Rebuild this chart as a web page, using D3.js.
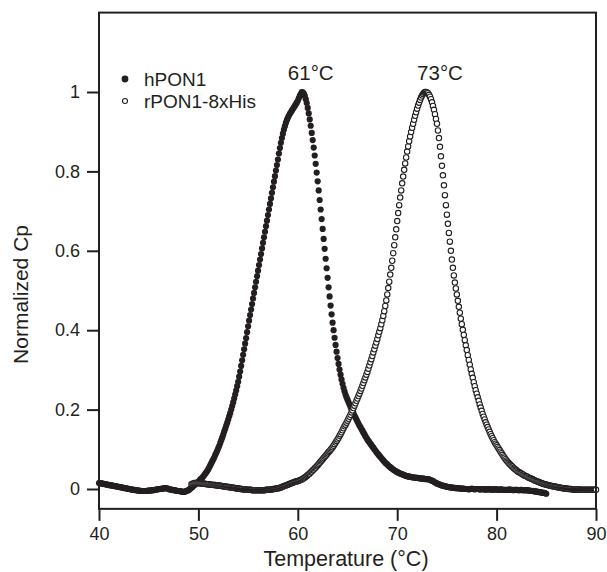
<!DOCTYPE html>
<html>
<head>
<meta charset="utf-8">
<script src="https://cdn.jsdelivr.net/npm/d3@7"></script>
<style>
  html, body { margin: 0; padding: 0; background: #ffffff; }
  svg { display: block; }
  text { font-family: "Liberation Sans", Arial, Helvetica, sans-serif; fill: #231f20; }
</style>
</head>
<body>
<svg id="chart" width="607" height="572"></svg>
<script>
// ---- data (temperature grid: start + index * step, in °C) ----
const tempStep = 0.1;
const hPON1Start = 40.0;
const rPON1Start = 49.3;

const hPON1 = [
  0.015,0.015,0.014,0.014,0.013,0.013,0.012,0.012,0.011,0.011,
  0.010,0.010,0.009,0.009,0.008,0.008,0.007,0.007,0.006,0.006,
  0.005,0.005,0.004,0.004,0.003,0.003,0.002,0.002,0.001,0.001,
  0.000,0.000,-0.001,-0.001,-0.002,-0.002,-0.002,-0.003,-0.003,-0.004,
  -0.004,-0.004,-0.005,-0.005,-0.005,-0.005,-0.005,-0.005,-0.005,-0.004,
  -0.004,-0.004,-0.004,-0.003,-0.003,-0.003,-0.002,-0.002,-0.001,-0.001,
  0.000,0.000,0.000,0.001,0.001,0.001,0.002,0.002,0.002,0.001,
  0.000,-0.001,-0.001,-0.002,-0.002,-0.003,-0.003,-0.004,-0.004,-0.005,
  -0.005,-0.005,-0.006,-0.006,-0.007,-0.007,-0.007,-0.006,-0.005,-0.004,
  -0.003,-0.001,0.001,0.003,0.005,0.008,0.010,0.012,0.014,0.016,
  0.018,0.021,0.024,0.026,0.029,0.032,0.035,0.039,0.042,0.046,
  0.050,0.055,0.060,0.065,0.070,0.075,0.080,0.086,0.091,0.097,
  0.103,0.109,0.116,0.123,0.130,0.137,0.145,0.152,0.160,0.167,
  0.175,0.183,0.191,0.200,0.209,0.218,0.228,0.238,0.248,0.259,
  0.270,0.283,0.296,0.310,0.324,0.338,0.352,0.366,0.380,0.395,
  0.410,0.424,0.438,0.452,0.466,0.480,0.494,0.508,0.522,0.536,
  0.550,0.564,0.578,0.592,0.606,0.620,0.634,0.648,0.662,0.676,
  0.690,0.704,0.718,0.732,0.746,0.760,0.774,0.788,0.802,0.816,
  0.830,0.845,0.859,0.872,0.884,0.895,0.905,0.914,0.922,0.929,
  0.935,0.940,0.945,0.949,0.953,0.957,0.961,0.965,0.969,0.973,
  0.978,0.984,0.990,0.995,1.000,0.999,0.996,0.990,0.982,0.972,
  0.960,0.946,0.931,0.915,0.897,0.879,0.860,0.840,0.819,0.797,
  0.775,0.752,0.728,0.704,0.680,0.655,0.630,0.605,0.580,0.556,
  0.532,0.508,0.485,0.462,0.440,0.419,0.400,0.381,0.363,0.346,
  0.330,0.315,0.301,0.288,0.276,0.265,0.255,0.246,0.238,0.231,
  0.225,0.219,0.213,0.207,0.201,0.196,0.191,0.185,0.180,0.175,
  0.170,0.165,0.160,0.156,0.151,0.147,0.142,0.138,0.133,0.129,
  0.125,0.121,0.118,0.114,0.111,0.107,0.104,0.100,0.097,0.093,
  0.090,0.087,0.084,0.081,0.078,0.075,0.072,0.069,0.066,0.064,
  0.062,0.059,0.057,0.055,0.053,0.051,0.049,0.047,0.046,0.044,
  0.043,0.041,0.040,0.039,0.038,0.037,0.036,0.035,0.034,0.033,
  0.032,0.032,0.031,0.031,0.030,0.030,0.029,0.029,0.029,0.028,
  0.028,0.028,0.027,0.027,0.027,0.026,0.026,0.026,0.025,0.025,
  0.025,0.025,0.024,0.023,0.022,0.021,0.020,0.018,0.017,0.015,
  0.014,0.013,0.012,0.011,0.010,0.009,0.008,0.008,0.007,0.006,
  0.006,0.005,0.005,0.004,0.004,0.004,0.003,0.003,0.003,0.002,
  0.002,0.002,0.002,0.001,0.001,0.001,0.001,0.001,0.000,0.000,
  0.000,0.000,-0.001,0.000,0.000,0.001,0.000,0.000,-0.001,0.000,
  0.000,0.000,0.000,-0.001,-0.001,0.000,0.000,-0.001,-0.001,-0.001,
  -0.001,-0.001,0.000,-0.001,-0.001,-0.001,-0.002,-0.001,-0.001,-0.001,
  -0.001,-0.001,-0.002,-0.002,-0.001,-0.001,-0.002,-0.002,-0.002,-0.002,
  -0.002,-0.002,-0.002,-0.001,-0.002,-0.002,-0.002,-0.003,-0.002,-0.002,
  -0.002,-0.002,-0.003,-0.003,-0.002,-0.002,-0.003,-0.003,-0.003,-0.003,
  -0.003,-0.003,-0.004,-0.004,-0.004,-0.005,-0.005,-0.005,-0.006,-0.006,
  -0.006,-0.007,-0.007,-0.008,-0.008,-0.009,-0.009,-0.010,-0.010,-0.011,
  -0.012
];

const rPON1 = [
  0.012,0.013,0.014,0.015,0.015,0.015,0.015,
  0.015,0.015,0.014,0.014,0.014,0.013,0.013,0.013,0.012,0.012,
  0.012,0.012,0.011,0.011,0.011,0.010,0.010,0.010,0.009,0.009,
  0.009,0.008,0.008,0.008,0.007,0.007,0.006,0.006,0.006,0.005,
  0.005,0.005,0.004,0.004,0.003,0.003,0.003,0.002,0.002,0.001,
  0.001,0.001,0.000,0.000,0.000,-0.001,-0.001,-0.001,-0.001,-0.002,
  -0.002,-0.002,-0.002,-0.002,-0.003,-0.003,-0.003,-0.003,-0.003,-0.003,
  -0.003,-0.003,-0.003,-0.003,-0.003,-0.003,-0.003,-0.003,-0.002,-0.002,
  -0.002,-0.002,-0.001,-0.001,-0.001,0.000,0.000,0.000,0.001,0.001,
  0.002,0.002,0.003,0.004,0.005,0.006,0.007,0.008,0.009,0.010,
  0.011,0.012,0.013,0.014,0.015,0.016,0.017,0.018,0.019,0.019,
  0.020,0.021,0.022,0.023,0.024,0.026,0.027,0.029,0.031,0.033,
  0.035,0.037,0.039,0.042,0.044,0.047,0.049,0.052,0.054,0.057,
  0.060,0.063,0.066,0.069,0.072,0.075,0.078,0.081,0.084,0.087,
  0.090,0.093,0.096,0.099,0.102,0.105,0.109,0.113,0.117,0.121,
  0.125,0.129,0.134,0.138,0.143,0.148,0.153,0.158,0.162,0.167,
  0.172,0.177,0.182,0.187,0.193,0.198,0.204,0.210,0.216,0.222,
  0.228,0.234,0.240,0.247,0.253,0.260,0.267,0.274,0.281,0.288,
  0.295,0.303,0.311,0.319,0.327,0.335,0.344,0.352,0.361,0.369,
  0.378,0.387,0.396,0.405,0.415,0.425,0.436,0.448,0.461,0.475,
  0.490,0.506,0.522,0.540,0.557,0.575,0.594,0.614,0.634,0.654,
  0.675,0.695,0.715,0.734,0.752,0.770,0.787,0.804,0.820,0.835,
  0.850,0.863,0.876,0.888,0.899,0.910,0.920,0.930,0.940,0.949,
  0.958,0.966,0.973,0.980,0.986,0.991,0.995,0.998,1.000,1.000,
  0.999,0.997,0.993,0.988,0.982,0.974,0.965,0.955,0.944,0.932,
  0.920,0.903,0.884,0.862,0.838,0.814,0.790,0.765,0.740,0.715,
  0.691,0.668,0.645,0.623,0.600,0.578,0.557,0.538,0.520,0.505,
  0.490,0.474,0.459,0.444,0.429,0.415,0.401,0.388,0.375,0.362,
  0.350,0.337,0.325,0.313,0.301,0.290,0.280,0.269,0.259,0.249,
  0.240,0.231,0.222,0.213,0.205,0.197,0.189,0.182,0.175,0.168,
  0.162,0.156,0.150,0.144,0.138,0.133,0.128,0.123,0.118,0.114,
  0.110,0.106,0.102,0.098,0.094,0.090,0.086,0.082,0.079,0.075,
  0.072,0.069,0.066,0.063,0.061,0.058,0.056,0.053,0.051,0.049,
  0.047,0.045,0.043,0.042,0.040,0.039,0.037,0.036,0.034,0.033,
  0.032,0.031,0.029,0.028,0.027,0.026,0.025,0.023,0.022,0.021,
  0.020,0.019,0.018,0.017,0.016,0.015,0.014,0.013,0.012,0.012,
  0.011,0.010,0.010,0.009,0.008,0.008,0.007,0.007,0.006,0.006,
  0.005,0.005,0.004,0.004,0.003,0.003,0.002,0.002,0.002,0.001,
  0.001,0.001,0.000,0.000,0.000,0.000,-0.001,-0.001,-0.001,-0.001,
  -0.001,-0.001,-0.001,-0.001,-0.002,-0.002,-0.002,-0.002,-0.002,-0.002,
  -0.002,-0.002,-0.002,-0.002,-0.002,-0.002,-0.002,-0.002,-0.002,-0.002,
  -0.002
];

const seriesNames = ["hPON1", "rPON1-8xHis"];
const peakLabels = ["61°C", "73°C"];
const peakLabelTemps = [59.0, 72.0];
const xTicks = [40, 50, 60, 70, 80, 90];
const yTicks = [0, 0.2, 0.4, 0.6, 0.8, 1];
const yTickLabels = ["0", "0.2", "0.4", "0.6", "0.8", "1"];
const xTitle = "Temperature (°C)";
const yTitle = "Normalized Cp";

// ---- layout ----
const ink = "#231f20";
const svg = d3.select("#chart");
const x = d3.scaleLinear().domain([40, 90]).range([99, 596]);
const y = d3.scaleLinear().domain([-0.05, 1.2]).range([508.85, 12.6]);

const toPoints = (arr, start) => arr.map((v, i) => ({ t: start + i * tempStep, v }));
const hPts = toPoints(hPON1, hPON1Start);
const rPts = toPoints(rPON1, rPON1Start);

// data markers
svg.append("g").selectAll("circle").data(hPts).join("circle")
  .attr("cx", d => x(d.t)).attr("cy", d => y(d.v)).attr("r", 3.1)
  .attr("fill", ink);

svg.append("g").selectAll("circle").data(rPts).join("circle")
  .attr("cx", d => x(d.t)).attr("cy", d => y(d.v)).attr("r", 2.7)
  .attr("fill", "#ffffff").attr("stroke", ink).attr("stroke-width", 1.1);

// frame
svg.append("rect")
  .attr("x", x(40)).attr("y", y(1.2))
  .attr("width", x(90) - x(40)).attr("height", y(-0.05) - y(1.2))
  .attr("fill", "none").attr("stroke", ink).attr("stroke-width", 2);

// axes
const yAxis = d3.axisLeft(y).tickValues(yTicks).tickSize(12).tickPadding(7)
  .tickFormat((d, i) => yTickLabels[i]);
const gy = svg.append("g").attr("transform", `translate(${x(40)},0)`).call(yAxis);
const xAxis = d3.axisBottom(x).tickValues(xTicks).tickSize(12).tickPadding(6.3)
  .tickFormat(d3.format("d"));
const gx = svg.append("g").attr("transform", `translate(0,${y(-0.05)})`).call(xAxis);
[gx, gy].forEach(g => {
  g.select(".domain").remove();
  g.selectAll(".tick line").attr("stroke", ink).attr("stroke-width", 2);
  g.selectAll(".tick text").attr("fill", ink)
    .style("font-size", "18px")
    .style("font-family", "'Liberation Sans', Arial, Helvetica, sans-serif");
});

// axis titles
svg.append("text")
  .attr("x", 346).attr("y", 566)
  .attr("text-anchor", "middle").style("font-size", "21.5px")
  .text(xTitle);
svg.append("text")
  .attr("transform", `translate(28,${y(0.49)}) rotate(-90)`)
  .attr("text-anchor", "middle").style("font-size", "21px")
  .text(yTitle);

// peak annotations
svg.append("g").selectAll("text").data(peakLabels).join("text")
  .attr("x", (d, i) => x(peakLabelTemps[i]))
  .attr("y", y(1.03))
  .attr("text-anchor", "start").style("font-size", "20.5px")
  .text(d => d);

// legend
const legend = svg.append("g");
legend.append("circle").attr("cx", 125).attr("cy", 79).attr("r", 3.4).attr("fill", ink);
legend.append("circle").attr("cx", 125).attr("cy", 101).attr("r", 2.5)
  .attr("fill", "#ffffff").attr("stroke", ink).attr("stroke-width", 1.1);
legend.selectAll("text").data(seriesNames).join("text")
  .attr("x", 144).attr("y", (d, i) => 86 + i * 22)
  .style("font-size", "19px")
  .text(d => d);
</script>
</body>
</html>
